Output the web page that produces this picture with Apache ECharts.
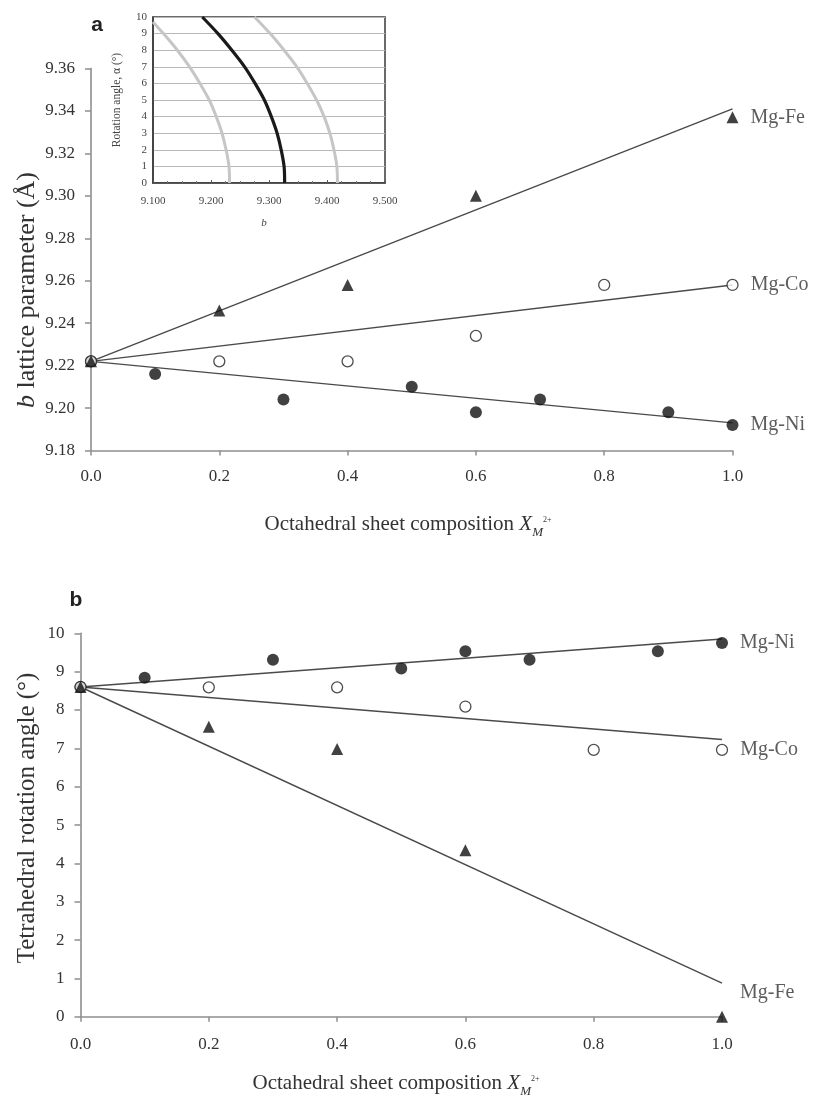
<!DOCTYPE html>
<html>
<head>
<meta charset="utf-8">
<script src="https://cdn.jsdelivr.net/npm/echarts@6/dist/echarts.min.js"></script>
<style>html,body{margin:0;padding:0;background:#fff}#c{width:816px;height:1096px}</style>
</head>
<body>
<div id="c"></div>
<script>
// ---------- data ----------
const xFe = [0, 0.2, 0.4, 0.6, 1.0];
const xCo = [0, 0.2, 0.4, 0.6, 0.8, 1.0];
const xNi = [0, 0.1, 0.3, 0.5, 0.6, 0.7, 0.9, 1.0];

// panel a: b lattice parameter (Å)
const bFe = [9.222, 9.246, 9.258, 9.300, 9.337];
const bCo = [9.222, 9.222, 9.222, 9.234, 9.258, 9.258];
const bNi = [9.222, 9.216, 9.204, 9.210, 9.198, 9.204, 9.198, 9.192];
const fitX = [0, 1.0];
const bFitFe = [9.222, 9.341];
const bFitCo = [9.222, 9.258];
const bFitNi = [9.222, 9.193];

// panel b: tetrahedral rotation angle (°)
const rotFe = [8.60, 7.56, 6.98, 4.34, 0.00];
const rotCo = [8.60, 8.59, 8.59, 8.09, 6.96, 6.96];
const rotNi = [8.60, 8.84, 9.31, 9.08, 9.53, 9.31, 9.53, 9.75];
const rotFitFe = [8.60, 0.88];
const rotFitCo = [8.60, 7.23];
const rotFitNi = [8.60, 9.85];

// inset: rotation angle vs b
const insetAlpha = [0, 1, 2, 3, 4, 5, 6, 7, 8, 9, 10];
const insetAlphaLow = [0, 1, 2, 3, 4, 5, 6, 7, 8, 9, 9.7];
const insetBlack = [9.327, 9.326, 9.321, 9.314, 9.304, 9.292, 9.276, 9.258, 9.236, 9.212, 9.185];
const insetGrayLow = [9.232, 9.231, 9.226, 9.219, 9.209, 9.197, 9.181, 9.163, 9.142, 9.118, 9.100];
const insetGrayHigh = [9.418, 9.417, 9.412, 9.405, 9.395, 9.382, 9.366, 9.348, 9.326, 9.302, 9.275];

// tick labels
const xTickLabels = ['0.0', '0.2', '0.4', '0.6', '0.8', '1.0'];
const bTickLabels = ['9.18', '9.20', '9.22', '9.24', '9.26', '9.28', '9.30', '9.32', '9.34', '9.36'];
const rotTickLabels = ['0', '1', '2', '3', '4', '5', '6', '7', '8', '9', '10'];
const insetXTickLabels = ['9.100', '9.200', '9.300', '9.400', '9.500'];
const insetYTickLabels = ['0', '1', '2', '3', '4', '5', '6', '7', '8', '9', '10'];

// ---------- chart ----------
const SERIF = "'Liberation Serif', 'Times New Roman', serif";
const SANS = "'Liberation Sans', Arial, sans-serif";
const AXIS = '#8f8f8f';
const TXT = '#333';

const pairs = (xs, ys) => xs.map((x, i) => [x, ys[i]]);

function mainX(gi, margin) {
  return {
    gridIndex: gi, type: 'value', min: 0, max: 1, interval: 0.2,
    axisLine: { show: true, onZero: false, lineStyle: { color: AXIS, width: 1.6 } },
    axisTick: { show: true, length: 5, lineStyle: { color: AXIS, width: 1.5 } },
    axisLabel: { margin: margin, fontSize: 17, fontFamily: SERIF, color: TXT, hideOverlap: false,
      formatter: v => xTickLabels[Math.round(v / 0.2)] },
    splitLine: { show: false }
  };
}
function mainY(gi, min, max, interval, labels) {
  return {
    gridIndex: gi, type: 'value', min: min, max: max, interval: interval,
    axisLine: { show: true, onZero: false, lineStyle: { color: AXIS, width: 1.6 } },
    axisTick: { show: true, length: 6, lineStyle: { color: AXIS, width: 1.5 } },
    axisLabel: { margin: 16, fontSize: 17, fontFamily: SERIF, color: TXT, hideOverlap: false,
      formatter: v => labels[Math.round((v - min) / interval)] },
    splitLine: { show: false }
  };
}

const lbl = (name, offset) => ({
  show: true, formatter: name, position: 'right', distance: 12,
  fontSize: 20, fontFamily: SERIF, color: TXT, offset: offset || [0, 0]
});

function fitLine(gi, ys) {
  return {
    type: 'line', xAxisIndex: gi, yAxisIndex: gi, data: pairs(fitX, ys),
    symbol: 'none', silent: true, z: 2,
    lineStyle: { color: '#4a4a4a', width: 1.4 }
  };
}
function pts(gi, name, xs, ys, kind, labelOffset) {
  const data = pairs(xs, ys).map((p, i) => i === xs.length - 1
    ? { value: p, label: lbl(name, labelOffset) } : { value: p });
  const base = { type: 'scatter', name: name, xAxisIndex: gi, yAxisIndex: gi, data: data, z: 3 };
  if (kind === 'tri') {
    return Object.assign(base, { symbol: 'triangle', symbolSize: 12, itemStyle: { color: '#111' }, z: 5 });
  } else if (kind === 'open') {
    return Object.assign(base, { symbol: 'circle', symbolSize: 11,
      itemStyle: { color: '#fff', borderColor: '#222', borderWidth: 1.3 }, z: 4 });
  }
  return Object.assign(base, { symbol: 'circle', symbolSize: 12, itemStyle: { color: '#111' } });
}

const insetLine = (bs, as, color, width) => ({
  type: 'line', xAxisIndex: 2, yAxisIndex: 2, data: pairs(bs, as), symbol: 'none',
  smooth: 0.3, silent: true, z: 6, lineStyle: { color: color, width: width }
});

const xTitleRich = {
  x: { fontStyle: 'italic', fontSize: 21, fontFamily: SERIF, fill: TXT },
  m: { fontStyle: 'italic', fontSize: 13, fontFamily: SERIF, fill: TXT, verticalAlign: 'bottom' },
  s: { fontSize: 8, fontFamily: SERIF, fill: TXT, verticalAlign: 'top', padding: [7, 0, 0, 0] }
};

const option = {
  backgroundColor: '#fff',
  animation: false,
  grid: [
    { left: 91, top: 68.5, width: 641.5, height: 382, outerBoundsMode: 'none', containLabel: false },
    { left: 80.5, top: 633.3, width: 641.5, height: 383.5, outerBoundsMode: 'none', containLabel: false },
    { left: 153, top: 17, width: 232, height: 166, show: true, backgroundColor: '#fff',
      borderColor: '#3a3a3a', borderWidth: 1.5, outerBoundsMode: 'none', containLabel: false, z: 5 }
  ],
  xAxis: [
    mainX(0, 18),
    mainX(1, 19),
    {
      gridIndex: 2, type: 'value', min: 9.1, max: 9.5, interval: 0.1, z: 6,
      axisLine: { show: true, onZero: false, lineStyle: { color: '#3a3a3a', width: 1.5 } },
      axisTick: { show: true, inside: true, length: 3, lineStyle: { color: '#555' } },
      minorTick: { show: true, splitNumber: 4, length: 2, lineStyle: { color: '#777' } },
      axisLabel: { margin: 13, fontSize: 11, fontFamily: SERIF, color: '#444', hideOverlap: false,
        formatter: v => insetXTickLabels[Math.round((v - 9.1) / 0.1)] },
      splitLine: { show: false }
    }
  ],
  yAxis: [
    mainY(0, 9.18, 9.36, 0.02, bTickLabels),
    mainY(1, 0, 10, 1, rotTickLabels),
    {
      gridIndex: 2, type: 'value', min: 0, max: 10, interval: 1, z: 6,
      axisLine: { show: true, onZero: false, lineStyle: { color: '#3a3a3a', width: 1.5 } },
      axisTick: { show: false },
      axisLabel: { margin: 6, fontSize: 11, fontFamily: SERIF, color: '#444', hideOverlap: false,
        formatter: v => insetYTickLabels[Math.round(v)] },
      splitLine: { show: true, lineStyle: { color: '#b8b8b8', width: 1 } }
    }
  ],
  series: [
    fitLine(0, bFitFe), fitLine(0, bFitCo), fitLine(0, bFitNi),
    pts(0, 'Mg-Ni', xNi, bNi, 'fill'),
    pts(0, 'Mg-Co', xCo, bCo, 'open'),
    pts(0, 'Mg-Fe', xFe, bFe, 'tri'),
    fitLine(1, rotFitFe), fitLine(1, rotFitCo), fitLine(1, rotFitNi),
    pts(1, 'Mg-Ni', xNi, rotNi, 'fill'),
    pts(1, 'Mg-Co', xCo, rotCo, 'open'),
    pts(1, 'Mg-Fe', xFe, rotFe, 'tri', [0, -24]),
    insetLine(insetGrayLow, insetAlphaLow, '#c6c6c6', 3),
    insetLine(insetGrayHigh, insetAlpha, '#c6c6c6', 3),
    insetLine(insetBlack, insetAlpha, '#1a1a1a', 3.2)
  ],
  graphic: [
    { type: 'text', x: 97, y: 25, style: { text: 'a', font: "bold 21px " + SANS, fill: '#222',
      textAlign: 'center', textVerticalAlign: 'middle' } },
    { type: 'text', x: 76, y: 600, style: { text: 'b', font: "bold 21px " + SANS, fill: '#222',
      textAlign: 'center', textVerticalAlign: 'middle' } },
    { type: 'text', x: 27, y: 290, rotation: Math.PI / 2,
      style: { text: '{i|b} lattice parameter (Å)', font: "26px " + SERIF, fill: TXT,
        textAlign: 'center', textVerticalAlign: 'middle',
        rich: { i: { fontStyle: 'italic', fontSize: 26, fontFamily: SERIF, fill: TXT } } } },
    { type: 'text', x: 27, y: 818, rotation: Math.PI / 2,
      style: { text: 'Tetrahedral rotation angle (°)', font: "25px " + SERIF, fill: TXT,
        textAlign: 'center', textVerticalAlign: 'middle' } },
    { type: 'text', x: 408, y: 524,
      style: { text: 'Octahedral sheet composition {x|X}{m|M}{s|2+}', font: "21px " + SERIF, fill: TXT,
        textAlign: 'center', textVerticalAlign: 'middle', lineHeight: 30, rich: xTitleRich } },
    { type: 'text', x: 396, y: 1083,
      style: { text: 'Octahedral sheet composition {x|X}{m|M}{s|2+}', font: "21px " + SERIF, fill: TXT,
        textAlign: 'center', textVerticalAlign: 'middle', lineHeight: 30, rich: xTitleRich } },
    { type: 'text', x: 117, y: 100, rotation: Math.PI / 2, z: 10,
      style: { text: 'Rotation angle, α (°)', font: "11.5px " + SERIF, fill: '#444',
        textAlign: 'center', textVerticalAlign: 'middle' } },
    { type: 'text', x: 264, y: 223, z: 10,
      style: { text: 'b', font: "italic 11px " + SERIF, fill: '#444',
        textAlign: 'center', textVerticalAlign: 'middle' } }
  ]
};

const chart = echarts.init(document.getElementById('c'), null, { renderer: 'canvas' });
chart.setOption(option);
</script>
</body>
</html>
